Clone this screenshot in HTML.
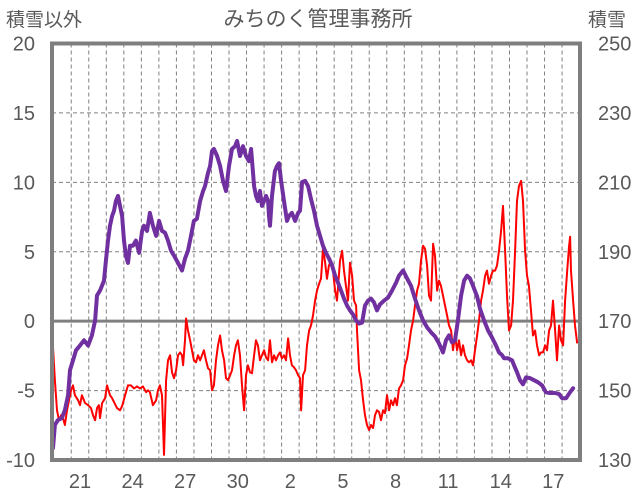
<!DOCTYPE html>
<html><head><meta charset="utf-8"><style>
body{margin:0;background:#fff;width:636px;height:501px;overflow:hidden}
svg{display:block;font-family:"Liberation Sans","Noto Sans CJK JP",sans-serif}
</style></head><body>
<svg id="chart" width="636" height="501" viewBox="0 0 636 501">
<text x="318" y="26" text-anchor="middle" font-size="21" fill="#595959">みちのく管理事務所</text>
<text x="6" y="26" font-size="19" fill="#595959">積雪以外</text>
<text x="588" y="26" font-size="19" fill="#595959">積雪</text>
<g id="grid"></g>
<g id="axes"></g>
<g id="series"></g>
<rect x="52" y="43.5" width="528" height="416.5" fill="none" stroke="#7f7f7f" stroke-width="4"/>
</svg>
<script>
const leftTicks=[20,15,10,5,0,-5,-10];
const rightTicks=[250,230,210,190,170,150,130];
const xTickDays=[21,24,27,30,33,36,39,42,45,48];
const xTickLabels=["21","24","27","30","2","5","8","11","14","17"];
const snowT=[19.46,19.57,19.74,19.97,20.14,20.32,20.43,20.60,20.77,21.00,21.23,21.46,21.68,21.86,21.97,22.14,22.37,22.48,22.60,22.71,22.83,22.94,23.05,23.17,23.28,23.40,23.51,23.62,23.74,23.85,24.02,24.19,24.37,24.54,24.65,24.82,24.99,25.16,25.34,25.51,25.68,25.85,26.02,26.19,26.36,26.59,26.82,26.99,27.16,27.33,27.50,27.67,27.85,28.02,28.13,28.30,28.42,28.53,28.64,28.82,28.99,29.16,29.33,29.50,29.67,29.84,29.96,30.13,30.30,30.47,30.64,30.76,30.93,31.04,31.15,31.27,31.38,31.50,31.61,31.73,31.78,31.84,31.95,32.12,32.24,32.35,32.47,32.64,32.81,32.92,33.09,33.27,33.44,33.55,33.67,33.84,34.01,34.18,34.35,34.52,34.69,34.86,35.03,35.21,35.38,35.55,35.72,35.89,36.06,36.23,36.40,36.58,36.75,36.92,37.09,37.26,37.43,37.60,37.77,37.94,38.11,38.34,38.57,38.80,39.03,39.20,39.43,39.66,39.88,40.11,40.34,40.57,40.80,41.02,41.25,41.48,41.71,41.88,42.05,42.22,42.39,42.56,42.74,42.91,43.08,43.25,43.42,43.65,43.82,44.05,44.28,44.50,44.73,44.90,45.08,45.19,45.42,45.65,45.76,45.93,46.10,46.27,46.44,46.67,46.90,47.13,47.36,47.58,47.81,48.10,48.33,48.50,48.73,48.95,49.13];
const snowV=[133.5,140.1,141.5,142.1,144.4,148.7,155.9,158.7,161.6,163.0,164.5,163.0,165.9,170.2,177.4,178.8,181.7,187.4,193.2,197.5,200.3,201.8,204.6,206.1,203.2,200.3,193.2,188.8,186.8,191.7,191.7,193.2,189.7,196.0,197.5,196.0,201.2,197.5,194.6,198.9,196.0,195.5,193.2,190.3,188.9,186.8,184.6,188.0,190.3,194.6,198.9,199.5,204.6,207.5,208.9,212.7,214.7,219.0,219.6,217.6,214.7,210.4,207.5,214.7,219.6,220.4,221.9,217.6,220.4,217.6,216.1,219.6,208.9,206.1,204.6,207.5,203.2,204.6,206.1,204.6,200.3,197.5,206.1,213.2,214.7,215.5,210.4,204.6,198.9,200.3,201.2,198.9,201.2,201.8,210.1,210.4,208.9,205.2,201.8,197.5,194.6,191.7,189.7,188.0,186.0,183.1,181.1,178.8,176.5,174.5,173.1,171.9,170.2,169.3,169.6,174.5,175.9,176.5,175.4,173.1,174.8,175.9,176.8,178.8,181.1,183.1,184.6,182.3,180.2,176.5,173.1,170.2,168.2,166.8,165.6,163.6,161.0,164.5,165.9,163.9,164.5,170.2,177.4,181.7,183.1,182.3,180.2,177.1,173.6,170.2,167.3,165.3,163.0,161.0,160.2,159.3,159.3,158.7,157.3,155.3,153.0,151.8,153.8,153.6,153.0,152.4,151.5,149.5,149.3,149.3,149.0,147.8,147.8,149.5,150.7];
const otherT=[19.46,19.57,19.69,19.80,19.92,20.03,20.14,20.26,20.37,20.49,20.60,20.71,20.89,21.00,21.11,21.29,21.46,21.63,21.74,21.86,21.97,22.08,22.14,22.26,22.43,22.54,22.71,22.83,22.94,23.11,23.28,23.40,23.57,23.74,23.91,24.08,24.25,24.42,24.59,24.77,24.88,24.99,25.16,25.34,25.45,25.56,25.68,25.79,25.91,26.02,26.14,26.25,26.36,26.48,26.59,26.71,26.82,26.88,26.99,27.05,27.16,27.28,27.39,27.50,27.62,27.73,27.85,27.96,28.07,28.19,28.30,28.42,28.53,28.64,28.76,28.87,28.99,29.10,29.22,29.33,29.44,29.56,29.67,29.79,29.90,30.01,30.13,30.24,30.36,30.47,30.58,30.70,30.81,30.93,31.04,31.15,31.27,31.38,31.50,31.61,31.73,31.84,31.95,32.07,32.18,32.30,32.41,32.52,32.64,32.75,32.87,32.98,33.09,33.21,33.32,33.44,33.55,33.61,33.72,33.84,33.95,34.07,34.18,34.29,34.41,34.52,34.64,34.75,34.80,34.86,34.98,35.09,35.20,35.32,35.43,35.55,35.66,35.83,35.95,36.06,36.17,36.29,36.40,36.52,36.63,36.75,36.80,36.92,37.03,37.15,37.26,37.37,37.49,37.60,37.72,37.83,37.94,38.06,38.17,38.29,38.40,38.51,38.63,38.74,38.86,38.97,39.08,39.20,39.31,39.43,39.54,39.66,39.77,39.88,40.00,40.11,40.23,40.34,40.45,40.57,40.68,40.80,40.91,41.02,41.14,41.25,41.37,41.48,41.59,41.71,41.82,41.94,42.05,42.17,42.28,42.39,42.51,42.62,42.74,42.85,42.96,43.08,43.19,43.31,43.42,43.53,43.65,43.76,43.88,43.99,44.11,44.22,44.33,44.45,44.56,44.68,44.79,44.90,45.02,45.13,45.25,45.36,45.47,45.59,45.70,45.82,45.93,46.04,46.16,46.27,46.39,46.50,46.61,46.73,46.84,46.96,47.07,47.19,47.30,47.41,47.53,47.64,47.76,47.87,47.98,48.10,48.21,48.33,48.44,48.56,48.67,48.79,48.90,48.96,49.01,49.13,49.24,49.36];
const otherV=[-1.89,-4.26,-6.42,-7.13,-6.77,-6.98,-7.48,-6.42,-5.70,-4.98,-4.63,-5.33,-5.70,-6.05,-5.33,-5.90,-6.05,-6.26,-6.77,-7.13,-6.26,-6.05,-6.98,-5.90,-5.55,-4.63,-5.33,-5.55,-5.83,-6.26,-6.42,-6.12,-5.33,-4.63,-4.63,-4.84,-4.70,-4.84,-4.70,-5.12,-4.98,-5.12,-6.05,-5.70,-4.98,-4.63,-5.33,-9.63,-4.26,-2.82,-2.46,-3.68,-4.11,-3.54,-2.46,-2.25,-2.46,-3.18,-1.38,0.19,-0.67,-1.38,-2.10,-2.82,-2.96,-2.46,-2.82,-2.46,-2.10,-2.82,-3.39,-3.54,-4.98,-4.63,-2.82,-1.74,-1.03,-2.10,-2.82,-4.11,-4.25,-3.90,-3.54,-2.46,-1.74,-1.38,-2.46,-4.63,-6.42,-3.90,-3.18,-3.68,-3.75,-2.46,-1.38,-1.74,-2.82,-2.46,-2.10,-2.60,-2.82,-1.38,-2.96,-2.46,-2.82,-2.46,-2.25,-2.68,-2.46,-2.82,-1.24,-2.46,-3.18,-3.32,-3.54,-3.90,-4.11,-6.42,-3.90,-3.54,-1.74,-0.67,-0.31,0.41,1.48,2.20,2.70,3.06,4.00,5.29,4.21,3.06,4.00,4.35,3.64,2.20,1.48,4.35,5.07,3.64,2.56,1.48,4.21,3.28,1.48,1.13,-0.67,-3.54,-4.25,-5.70,-6.77,-7.48,-7.84,-7.48,-7.70,-6.77,-6.42,-6.55,-7.13,-6.42,-6.62,-5.33,-6.42,-5.70,-6.05,-5.55,-6.05,-4.84,-4.63,-4.25,-3.18,-2.68,-1.74,-0.67,0.05,1.13,2.20,2.70,4.35,5.43,5.22,4.00,1.84,1.48,5.57,4.71,2.20,2.92,2.56,1.84,1.13,0.41,-0.31,-0.67,-2.10,-1.03,-2.10,-1.38,-2.46,-1.74,-2.46,-2.82,-2.96,-2.82,-3.18,-2.10,-1.03,0.05,1.48,2.20,3.28,3.64,2.70,3.28,3.64,3.64,4.00,5.07,6.51,8.30,5.07,1.84,-0.67,-0.31,1.48,5.07,8.66,9.74,10.10,8.66,5.07,3.28,2.56,0.77,-1.03,-0.67,-1.74,-2.46,-2.25,-2.25,-1.74,-2.10,-0.67,-0.31,1.48,-0.67,-2.82,-0.31,-1.38,-1.74,1.48,3.64,5.43,6.08,3.64,1.48,-0.31,-1.60];

const NS='http://www.w3.org/2000/svg';
const X0=52,X1=580,Y0=43.5,Y1=460;
function xs(t){return 80+(t-21)*17.53;}
function yl(v){return Y1-(v+10)/30*(Y1-Y0);}
function yr(v){return Y1-(v-130)/120*(Y1-Y0);}
function mk(tag,attrs,parent){const e=document.createElementNS(NS,tag);for(const k in attrs)e.setAttribute(k,attrs[k]);parent.appendChild(e);return e;}
const grid=document.getElementById('grid'),axes=document.getElementById('axes'),series=document.getElementById('series');
for(let n=20;n<=48;n++){
  const x=xs(n+0.5);
  const l=mk('line',{x1:x,x2:x,y1:Y0,y2:Y1,stroke:'#808080','stroke-width':1,'stroke-dasharray':'4 3'},grid);
  
  
}
leftTicks.forEach(v=>{
  const y=yl(v);
  if(v!==20&&v!==-10){
    const l=mk('line',{x1:X0,x2:X1,y1:y,y2:y,stroke:'#808080','stroke-width':v===0?3:1,'stroke-dasharray':v===0?'none':'4 3'},grid);
    
    
  }
  const t=mk('text',{x:35,y:y+7,'text-anchor':'end','font-size':20,fill:'#595959'},axes);
  t.textContent=String(v);
  
  
});
rightTicks.forEach(v=>{
  const t=mk('text',{x:598,y:yr(v)+7,'font-size':20,fill:'#595959'},axes);
  t.textContent=String(v);
  
  
});
xTickDays.forEach((d,i)=>{
  const t=mk('text',{x:xs(d),y:488,'text-anchor':'middle','font-size':20,fill:'#595959'},axes);
  t.textContent=xTickLabels[i];
  
  
});
function path(T,V,yf){return T.map((t,i)=>(i?'L':'M')+xs(t).toFixed(1)+' '+yf(V[i]).toFixed(1)).join(' ');}
const red=mk('path',{d:path(otherT,otherV,yl),fill:'none',stroke:'#ff0000','stroke-width':2,'stroke-linejoin':'round'},series);


const pur=mk('path',{d:path(snowT,snowV,yr),fill:'none',stroke:'#7030a0','stroke-width':4,'stroke-linejoin':'round','stroke-linecap':'round'},series);


</script>
</body></html>
